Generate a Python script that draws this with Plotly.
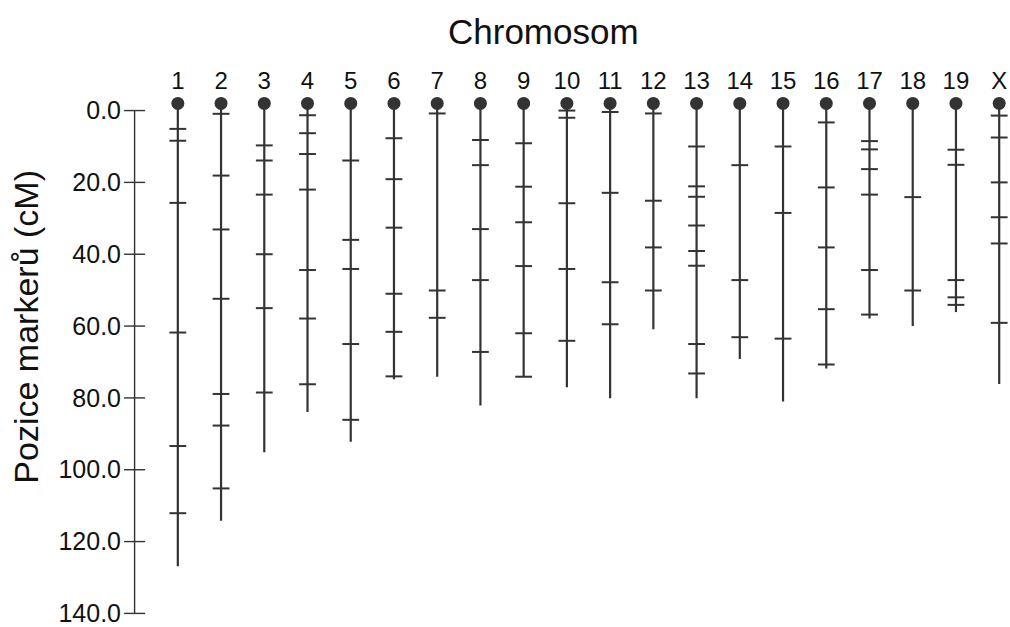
import plotly.graph_objects as go

chromosomes = ["1", "2", "3", "4", "5", "6", "7", "8", "9", "10",
               "11", "12", "13", "14", "15", "16", "17", "18", "19", "X"]

# chromosome lengths (cM) = end of each drawn line
lengths = [126.9, 114.2, 95.1, 83.9, 92.2, 74.8, 74.1, 82.1, 74.1, 77.0,
           80.1, 60.9, 80.1, 69.2, 81.0, 71.8, 57.9, 60.0, 56.1, 76.1]

# marker positions (cM) per chromosome
markers = [
    [5.1, 8.4, 25.7, 61.8, 93.4, 112.1],
    [0.9, 18.1, 33.1, 52.4, 78.9, 87.7, 105.2],
    [9.7, 13.9, 23.4, 40.0, 55.0, 78.5],
    [1.3, 6.3, 12.1, 22.0, 44.4, 57.9, 76.2],
    [13.9, 36.0, 44.1, 65.0, 86.1],
    [7.7, 19.1, 32.6, 51.0, 61.6, 74.0],
    [0.8, 50.1, 57.7],
    [8.2, 15.2, 33.0, 47.2, 67.2],
    [9.1, 21.2, 31.1, 43.3, 62.0, 74.1],
    [0.0, 2.0, 25.8, 44.1, 64.1],
    [0.4, 22.9, 47.8, 59.5],
    [0.8, 25.1, 38.1, 50.1],
    [10.0, 21.1, 24.0, 32.0, 39.1, 43.2, 65.0, 73.2],
    [15.2, 47.2, 63.1],
    [10.0, 28.5, 63.5],
    [3.3, 21.4, 38.1, 55.3, 70.7],
    [8.5, 10.8, 16.3, 23.4, 44.4, 56.8],
    [24.1, 50.1],
    [10.9, 15.1, 47.2, 52.0, 54.1],
    [1.4, 7.5, 20.0, 29.7, 37.0, 59.1],
]

y_ticks = [0, 20, 40, 60, 80, 100, 120, 140]
y_ticktext = ["%.1f" % v for v in y_ticks]

INK = "#333333"
TXT = "#111111"
FONT = "Liberation Sans, Arial, sans-serif"
CEN = -2.0  # centromere dot drawn just above 0

xs = list(range(1, len(chromosomes) + 1))

# chromosome bodies
lx, ly = [], []
for x, L in zip(xs, lengths):
    lx += [x, x, None]
    ly += [CEN, L, None]

# marker ticks
mx, my = [], []
for x, ms in zip(xs, markers):
    for m in ms:
        mx.append(x)
        my.append(m)

fig = go.Figure()
# y axis line (0 .. 140) and its crossing ticks
fig.add_trace(go.Scatter(x=[0, 0], y=[y_ticks[0], y_ticks[-1]], mode="lines",
                         line=dict(color=INK, width=1.4),
                         hoverinfo="skip", showlegend=False))
fig.add_trace(go.Scatter(x=[0] * len(y_ticks), y=y_ticks, mode="markers",
                         cliponaxis=False,
                         marker=dict(symbol="line-ew", size=15,
                                     line=dict(color=INK, width=1.4)),
                         hoverinfo="skip", showlegend=False))
fig.add_trace(go.Scatter(x=lx, y=ly, mode="lines",
                         line=dict(color=INK, width=2.2),
                         hoverinfo="skip", showlegend=False))
fig.add_trace(go.Scatter(x=mx, y=my, mode="markers", cliponaxis=False,
                         marker=dict(symbol="line-ew", size=12,
                                     line=dict(color=INK, width=2)),
                         showlegend=False))
fig.add_trace(go.Scatter(x=xs, y=[CEN] * len(xs), mode="markers",
                         cliponaxis=False,
                         marker=dict(symbol="circle", size=13, color=INK),
                         showlegend=False))

fig.update_layout(
    width=1010, height=627,
    margin=dict(l=132, r=0, t=98, b=7),
    paper_bgcolor="white", plot_bgcolor="white",
    font=dict(family=FONT, color=TXT),
    xaxis=dict(range=[-0.06, 20.25], side="top",
               tickvals=xs, ticktext=chromosomes,
               tickfont=dict(size=24, color=TXT),
               ticks="", showline=False, showgrid=False, zeroline=False,
               ticklabelstandoff=3),
    yaxis=dict(range=[141, -3.5], tickvals=y_ticks, ticktext=y_ticktext,
               tickfont=dict(size=25, color=TXT),
               ticks="", showline=False, showgrid=False, zeroline=False,
               ticklabelstandoff=10, ticklabeloverflow="allow"),
    annotations=[
        dict(text="Chromosom", xref="x", yref="paper", x=9.47, y=1.128,
             xanchor="center", yanchor="middle", showarrow=False,
             font=dict(size=35, color=TXT)),
        dict(text="Pozice markerů (cM)", xref="paper", yref="paper",
             x=-0.121, y=0.559, xanchor="center", yanchor="middle",
             textangle=-90, showarrow=False,
             font=dict(size=34, color=TXT)),
    ],
)

fig.write_html("out.html")
